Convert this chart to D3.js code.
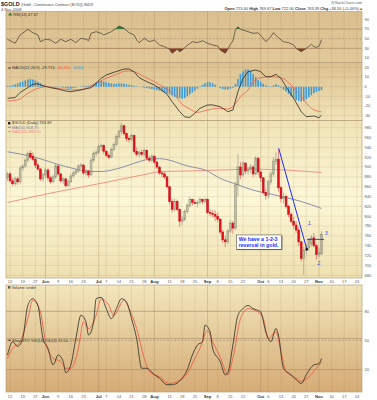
<!DOCTYPE html>
<html>
<head>
<meta charset="utf-8">
<script src="https://cdn.jsdelivr.net/npm/d3@7"></script>
<style>
  html, body { margin: 0; padding: 0; background: #fff; }
  svg { display: block; font-family: "Liberation Sans", Arial, sans-serif; }
</style>
</head>
<body>
<div id="chart"></div>
<script>
// trading calendar (x categories)
const firstSession = "2008-05-09", lastAxisDay = "2008-11-26";
const holidays = ["2008-05-26", "2008-07-04", "2008-09-01"];
const weekTicks = ["2008-05-12", "2008-05-19", "2008-05-27", "2008-06-09", "2008-06-16", "2008-06-23",
  "2008-07-07", "2008-07-14", "2008-07-21", "2008-07-28", "2008-08-11", "2008-08-18", "2008-08-25",
  "2008-09-08", "2008-09-15", "2008-09-22", "2008-10-06", "2008-10-13", "2008-10-20", "2008-10-27",
  "2008-11-10", "2008-11-17", "2008-11-24"];
const monthTicks = [["2008-06-02", "Jun"], ["2008-07-01", "Jul"], ["2008-08-01", "Aug"],
  ["2008-09-02", "Sep"], ["2008-10-01", "Oct"], ["2008-11-03", "Nov"]];

// right axis tick labels
const priceTicks = [680, 700, 720, 740, 760, 780, 800, 820, 840, 860, 880, 900, 920, 940, 960, 980];
const macdTicks = [-30, -20, -10, 0, 10, 20];
const rsiTicks = [10, 30, 50, 70, 90];
const stoTicks = [20, 50, 80];

// daily candles [open, high, low, close], one per session from 9 May
const ohlc = [
  [878, 890, 872, 886],
  [886, 890, 868, 872], [872, 878, 862, 866], [866, 880, 862, 876], [876, 880, 864, 870], [870, 902, 866, 898],
  [898, 906, 892, 902], [902, 918, 898, 914], [914, 932, 910, 928], [928, 934, 916, 920], [922, 930, 912, 916],
  [916, 918, 898, 904], [904, 908, 892, 896], [896, 898, 872, 876], [876, 888, 870, 884],
  [884, 898, 880, 894], [894, 898, 872, 878], [878, 882, 866, 870], [870, 884, 868, 880], [880, 906, 876, 902],
  [902, 904, 882, 886], [886, 888, 868, 872], [872, 880, 866, 876], [876, 878, 858, 862], [862, 874, 860, 870],
  [870, 886, 868, 882], [882, 892, 878, 888], [888, 896, 884, 892], [892, 906, 888, 902], [902, 908, 896, 904],
  [904, 906, 884, 888], [888, 896, 882, 892], [892, 894, 878, 884], [884, 918, 882, 914], [914, 932, 910, 928],
  [928, 936, 922, 930], [930, 946, 926, 942], [942, 948, 934, 944], [944, 946, 926, 932],
  [932, 934, 920, 924], [924, 928, 916, 920], [920, 940, 918, 936], [936, 950, 932, 946], [946, 966, 942, 962],
  [962, 976, 958, 972], [972, 990, 966, 984], [984, 986, 964, 968], [968, 970, 952, 958], [958, 962, 950, 956],
  [956, 968, 952, 964], [964, 966, 928, 932], [932, 940, 922, 926], [926, 934, 920, 930], [930, 936, 922, 926],
  [926, 938, 922, 934], [934, 936, 914, 918], [918, 922, 910, 914], [914, 926, 910, 922], [922, 924, 906, 910],
  [910, 912, 896, 900], [900, 902, 884, 888], [888, 892, 878, 886], [886, 890, 876, 880], [880, 882, 856, 860],
  [860, 862, 824, 830], [830, 836, 808, 814], [814, 836, 810, 830], [830, 834, 810, 814], [814, 816, 778, 790],
  [790, 800, 782, 794], [794, 814, 790, 810], [810, 826, 806, 822], [822, 840, 818, 834], [834, 836, 822, 828],
  [828, 834, 824, 826], [826, 832, 818, 828], [828, 838, 824, 834], [834, 836, 824, 830], [830, 838, 826, 834],
  [834, 836, 804, 808], [808, 814, 800, 806], [806, 812, 798, 804], [804, 812, 790, 800],
  [800, 808, 788, 794], [794, 796, 764, 768], [768, 772, 746, 752], [752, 760, 737, 748], [748, 774, 744, 770],
  [770, 792, 766, 786], [786, 790, 764, 776], [776, 870, 772, 864], [864, 926, 840, 900], [900, 910, 876, 884],
  [884, 912, 880, 908], [908, 910, 886, 892], [892, 900, 884, 896], [896, 906, 888, 900], [900, 904, 880, 886],
  [886, 922, 884, 918], [918, 920, 884, 890], [890, 892, 870, 878], [878, 880, 844, 848], [848, 856, 834, 842],
  [842, 874, 836, 870], [870, 892, 864, 886], [886, 920, 880, 912], [912, 930, 904, 916], [916, 938, 850, 858],
  [858, 862, 828, 836], [836, 848, 826, 840], [840, 844, 816, 820], [820, 824, 798, 804], [804, 808, 786, 790],
  [790, 798, 774, 782], [782, 790, 766, 772], [772, 778, 740, 748], [748, 750, 708, 714], [714, 738, 681, 730],
  [730, 744, 722, 736], [736, 756, 730, 752], [744, 762, 738, 756], [756, 766, 736, 740], [740, 744, 712, 722],
  [722, 736, 716, 726.89], [723.4, 769.67, 722, 763.39]
];

// moving averages: [session, value]
const ma50 = [[0, 931], [10, 921], [23, 901], [33, 891], [37, 891], [45, 899], [52, 911], [56, 916], [60, 917],
  [72, 901], [78, 894], [84, 877], [91, 864], [97, 853], [104, 845], [110, 838], [116, 830], [124, 816]];
const ma200 = [[0, 828], [17, 847], [37, 867], [60, 891], [72, 892], [84, 894], [97, 896], [110, 894], [124, 889]];

// RSI(14): [session, value]
const rsi = [[0, 48.7], [3, 40.4], [5, 57.6], [8, 69.3], [10, 62.3], [12, 57.6], [13, 43.7], [15, 48.7], [17, 47.2],
  [19, 40.4], [21, 48.7], [23, 43.7], [25, 48.7], [27, 41.7], [29, 50.7], [31, 48.7], [32, 45.8], [33, 61],
  [35, 64.4], [37, 61], [38, 57.6], [41, 64.4], [43, 71.4], [44, 76.2], [46, 71.4], [48, 62.3], [50, 57.6],
  [51, 47.2], [52, 41.7], [54, 50.7], [56, 43.7], [58, 47.2], [60, 36.9], [62, 33.4], [64, 28], [65, 19.8],
  [67, 28], [68, 23], [69, 26.6], [71, 36], [73, 43.7], [75, 41.7], [77, 45.8], [79, 40.4], [81, 36.9],
  [83, 34.8], [84, 26.6], [86, 19.8], [87, 28], [88, 38], [89, 45], [90, 68], [91, 74.7], [92, 69.3],
  [93, 68], [95, 64.4], [97, 61], [99, 62], [101, 50.7], [102, 43.7], [104, 54], [105, 62.3], [107, 52],
  [109, 43.7], [111, 41.7], [113, 36.9], [114, 30], [116, 23], [117, 26.6], [118, 30], [120, 38.3],
  [121, 33.4], [122, 32], [123, 34], [124, 47.67]];

// MACD(12,26,9): line and signal [session, value], histogram one per session
const macdLine = [[0, -12.1], [3, -11.4], [5, -5.9], [8, -1], [10, 2.5], [12, 3.1], [14, 1], [17, -1], [20, -2.4],
  [23, -4.5], [25, -5.2], [29, -3.4], [33, -1], [35, 3.5], [37, 8.7], [39, 12.2], [42, 15], [46, 18.4],
  [48, 18.4], [50, 15.6], [52, 9.4], [55, 5.2], [58, 1.8], [60, -1.7], [63, -7.9], [65, -15.6], [68, -26],
  [70, -31.5], [72, -32], [74, -27.5], [76, -22.5], [79, -19], [81, -19], [84, -20.8], [87, -26], [89, -24.3],
  [91, -5.2], [93, 8.7], [95, 15.6], [98, 17.4], [100, 15.6], [102, 10.4], [104, 10.4], [106, 12.9],
  [108, 8.7], [110, 0], [113, -12.1], [116, -26], [118, -31.3], [121, -30.5], [123, -32.3], [124, -29.713]];
const macdSignal = [[0, -14.9], [4, -13.9], [8, -6.9], [12, -1.7], [16, 0], [19, -1.7], [23, -2.7], [27, -3.4],
  [31, -1.7], [35, 3.5], [39, 8.7], [43, 12.9], [47, 16.4], [50, 15.6], [54, 10.4], [58, 5.2], [62, -1],
  [66, -8.6], [69, -18.3], [72, -23.2], [75, -26.7], [79, -24.3], [83, -22.5], [87, -23.2], [89, -20.8],
  [92, -10.4], [95, -3.4], [97, 5.2], [100, 9.4], [104, 10.4], [108, 9.4], [112, 1.8], [116, -10.4],
  [120, -22.5], [124, -26.211]];
const macdHist = [
  1,
  1, 1.5, 2.5, 3.5, 4.5,   5.5, 6.5, 7.5, 8, 7.5,   6.5, 5, 3.5, 2,
  1, 0, -0.5, -1, -1,   -0.5, -0.5, -1, -1.5, -2,   -2, -1.5, -1, 0, 0.5,   1, 1, 1, 1.5, 3,
  4.5, 5.5, 6, 5.5,   4.5, 4, 3.5, 3, 3,   3.5, 3.5, 3, 2.5, 2,   1.5, 1, 0.5, 0, -0.5,
  -1, -1.5, -2, -2.5, -3,   -3.5, -4, -5, -6, -7,   -8, -9, -10.5, -11.5, -12,   -12.5, -12, -10, -8, -6,
  -4, -2, 0.5, 2, 3.5,   5, 4.5, 3.5, 2,   0, -1.5, -2.5, -3, -3,   -2, -1, 3, 8, 13,
  16, 18, 18, 16, 13,   10, 7, 5, 3, 1.5,   0.5, 0.5, 1.5, 2.5, 1.5,   -1, -3, -5, -7.5, -10,
  -12, -14, -15, -15.5, -15,   -13, -11, -9, -7, -5.5,   -4.5, -3.502
];

// Slow STO %K(14) %D(3): [session, value]
const stoK = [[0, 35], [2, 48.6], [4, 43.9], [6, 52], [8, 86], [10, 92.9], [12, 86], [14, 52], [16, 41.8],
  [18, 24.9], [20, 35], [22, 28.2], [23, 16.7], [25, 24.9], [27, 52], [29, 75.9], [31, 69], [32, 55.5],
  [34, 69], [35, 92.9], [37, 94.3], [39, 82.7], [41, 72.4], [43, 82.7], [45, 92.9], [47, 89.4], [49, 72.4],
  [51, 52], [53, 21.4], [55, 21.4], [58, 14.7], [60, 11.2], [63, 4.5], [65, 4.5], [69, 11.2], [71, 20],
  [73, 35], [75, 45.3], [77, 48.6], [78, 65.7], [80, 58.8], [81, 41.8], [84, 28.2], [86, 14.7], [87, 16.7],
  [89, 45.3], [91, 75.9], [93, 82.7], [95, 86], [97, 82.7], [100, 79.2], [102, 58.8], [104, 48.6],
  [106, 62.2], [107, 55.5], [109, 21.4], [112, 14.7], [114, 9.8], [116, 5.7], [118, 14.7], [121, 24.9],
  [123, 26.1], [124, 31.5]];
const stoD = [[0, 31.6], [2, 41.8], [5, 48.6], [8, 72.4], [10, 91.4], [13, 79.2], [15, 48.6], [18, 31.6],
  [21, 28.2], [23, 21.4], [25, 21.4], [28, 41.8], [30, 69], [32, 62.2], [35, 75.9], [37, 92.9], [40, 86],
  [42, 75.9], [46, 91.4], [48, 82.7], [51, 62.2], [54, 31.6], [56, 18], [60, 12.7], [64, 5.7], [68, 9.2],
  [71, 16], [74, 31.6], [76, 41.8], [79, 60.2], [81, 48.6], [84, 33], [87, 14.7], [89, 31.6], [92, 72.4],
  [95, 82.7], [98, 80.6], [101, 72.4], [103, 52], [106, 58.8], [108, 38.4], [110, 18], [114, 11.2],
  [116, 7.8], [119, 12.7], [122, 21.4], [124, 27.79]];

// hand drawn annotations, in session / price units
const trendLine = [[107.1, 938], [118.2, 733]];
const resistance = [[118.3, 753], [125, 753]];
const pointLabels = [["1.", 119.4, 786], ["2.", 123.2, 705], ["3.", 126.1, 766]];
const noteBox = {session: 90.5, price: 762, lines: ["We have a 1-2-3", "reversal in gold."]};

// ---------------------------------------------------------------
const width = 377, height = 400;
const left = 6, right = 362;

const svg = d3.select("#chart").append("svg")
  .attr("width", width)
  .attr("height", height);
const defs = svg.append("defs");

const fmt = d3.utcFormat("%Y-%m-%d");
const sessions = d3.utcDay.range(new Date(firstSession), d3.utcDay.offset(new Date(lastAxisDay), 1))
  .filter(d => d.getUTCDay() > 0 && d.getUTCDay() < 6 && !holidays.includes(fmt(d)))
  .map(fmt);
const pos = s => sessions.indexOf(s);

const x = d3.scaleLinear().domain([-0.6, sessions.length - 1]).range([left, right]);

const panels = {
  rsi:   {top: 11.5, bottom: 62.5, colors: ["#dbbf8e", "#e2c99a"]},
  macd:  {top: 62.5, bottom: 120.5, colors: ["#dcc190", "#f1e4b8"]},
  price: {top: 120.5, bottom: 278, colors: ["#f0e3b6", "#fcf7d7", "#eee0b0"]},
  lower: {top: 285, bottom: 392, colors: ["#f2e6bc", "#d5ab75"]}
};

const yRsi = d3.scaleLinear().domain([0.7, 106.1]).range([panels.rsi.bottom, panels.rsi.top]);
const yMacd = d3.scaleLinear().domain([-35.2, 25.2]).range([panels.macd.bottom, panels.macd.top]);
const yPrice = d3.scaleLinear().domain([674.5, 994.6]).range([panels.price.bottom, panels.price.top]);
const ySto = d3.scaleLinear().domain([-3, 107]).range([panels.lower.bottom, panels.lower.top]);

// panel backgrounds
Object.entries(panels).forEach(([key, p]) => {
  const g = defs.append("linearGradient").attr("id", "bg-" + key)
    .attr("x1", 0).attr("x2", 0).attr("y1", 0).attr("y2", 1);
  p.colors.forEach((c, i) => g.append("stop")
    .attr("offset", i / (p.colors.length - 1)).attr("stop-color", c));
  svg.append("rect")
    .attr("x", left).attr("y", p.top)
    .attr("width", right - left).attr("height", p.bottom - p.top)
    .attr("fill", `url(#bg-${key})`);
});

// vertical grid
const gridDays = weekTicks.map(d => ({s: pos(d), month: false}))
  .concat(monthTicks.map(d => ({s: pos(d[0]), month: true})));
Object.values(panels).forEach(p => {
  svg.append("g").selectAll("line")
    .data(gridDays)
    .join("line")
      .attr("x1", d => x(d.s)).attr("x2", d => x(d.s))
      .attr("y1", p.top).attr("y2", p.bottom)
      .attr("stroke", d => d.month ? "rgba(140,105,60,0.38)" : "rgba(150,120,70,0.2)")
      .attr("stroke-width", 0.7);
});

// horizontal grid
function hGrid(ticks, y, color, dash) {
  svg.append("g").selectAll("line")
    .data(ticks)
    .join("line")
      .attr("x1", left).attr("x2", right)
      .attr("y1", d => y(d)).attr("y2", d => y(d))
      .attr("stroke", color)
      .attr("stroke-width", 0.7)
      .attr("stroke-dasharray", dash || null);
}
hGrid(priceTicks, yPrice, "rgba(150,120,70,0.18)");
hGrid(macdTicks, yMacd, "rgba(150,120,70,0.2)");
hGrid([70, 30], yRsi, "#a88f69");
hGrid([50], yRsi, "#ab9470", "2,1.5");
hGrid([80, 20], ySto, "#a88f69");
hGrid([50], ySto, "#ab9470", "2,1.5");
svg.append("line")
  .attr("x1", left).attr("x2", right).attr("y1", 338.5).attr("y2", 338.5)
  .attr("stroke", "#b39a74").attr("stroke-width", 0.8);

// panel frames
Object.values(panels).forEach(p => {
  svg.append("rect")
    .attr("x", left).attr("y", p.top)
    .attr("width", right - left).attr("height", p.bottom - p.top)
    .attr("fill", "none")
    .attr("stroke", "#b9a27e")
    .attr("stroke-width", 0.7);
});

const line = y => d3.line().x(d => x(d[0])).y(d => y(d[1]));

// ---- RSI ----
defs.append("clipPath").attr("id", "rsiHigh").append("rect")
  .attr("x", left).attr("y", panels.rsi.top).attr("width", right - left).attr("height", yRsi(70) - panels.rsi.top);
defs.append("clipPath").attr("id", "rsiLow").append("rect")
  .attr("x", left).attr("y", yRsi(30)).attr("width", right - left).attr("height", panels.rsi.bottom - yRsi(30));
svg.append("path")
  .datum(rsi)
  .attr("clip-path", "url(#rsiHigh)")
  .attr("fill", "#2f7d3a")
  .attr("d", d3.area().x(d => x(d[0])).y0(yRsi(70)).y1(d => yRsi(d[1])));
svg.append("path")
  .datum(rsi)
  .attr("clip-path", "url(#rsiLow)")
  .attr("fill", "#8c3b27")
  .attr("d", d3.area().x(d => x(d[0])).y0(yRsi(30)).y1(d => yRsi(d[1])));
svg.append("path")
  .datum(rsi)
  .attr("fill", "none")
  .attr("stroke", "#3c3a33")
  .attr("stroke-width", 0.7)
  .attr("d", line(yRsi));

// ---- MACD ----
svg.append("g").selectAll("rect")
  .data(macdHist)
  .join("rect")
    .attr("x", (d, i) => x(i) - 0.8)
    .attr("width", 1.6)
    .attr("y", d => Math.min(yMacd(d), yMacd(0)))
    .attr("height", d => Math.abs(yMacd(d) - yMacd(0)))
    .attr("fill", "#3d9bd8");
svg.append("path")
  .datum(macdSignal)
  .attr("fill", "none").attr("stroke", "#f0624e").attr("stroke-width", 0.8)
  .attr("d", line(yMacd).curve(d3.curveMonotoneX));
svg.append("path")
  .datum(macdLine)
  .attr("fill", "none").attr("stroke", "#2a2a24").attr("stroke-width", 0.8)
  .attr("d", line(yMacd));

// ---- price ----
svg.append("path")
  .datum(ma200)
  .attr("fill", "none").attr("stroke", "#f08a7c").attr("stroke-width", 0.9)
  .attr("d", line(yPrice));
svg.append("path")
  .datum(ma50)
  .attr("fill", "none").attr("stroke", "#7d84a6").attr("stroke-width", 0.9)
  .attr("d", line(yPrice).curve(d3.curveMonotoneX));

const candles = svg.append("g").selectAll("g")
  .data(ohlc)
  .join("g");
candles.append("line")
  .attr("x1", (d, i) => x(i)).attr("x2", (d, i) => x(i))
  .attr("y1", d => yPrice(d[1])).attr("y2", d => yPrice(d[2]))
  .attr("stroke", d => d[3] < d[0] ? "#d84a4e" : "#8d8c7c")
  .attr("stroke-width", 0.6);
candles.append("rect")
  .attr("x", (d, i) => x(i) - 0.9)
  .attr("width", 1.8)
  .attr("y", d => yPrice(Math.max(d[0], d[3])))
  .attr("height", d => Math.max(0.6, Math.abs(yPrice(d[0]) - yPrice(d[3]))))
  .attr("fill", d => d[3] < d[0] ? "#e4101c" : "none")
  .attr("stroke", d => d[3] < d[0] ? "#c8121c" : "#8d8c7c")
  .attr("stroke-width", 0.6);

// annotations
svg.append("path")
  .datum(trendLine)
  .attr("fill", "none").attr("stroke", "#1f2cff").attr("stroke-width", 1)
  .attr("d", line(yPrice));
svg.append("path")
  .datum(resistance)
  .attr("fill", "none").attr("stroke", "#1f2cff").attr("stroke-width", 0.9)
  .attr("d", line(yPrice));
svg.append("circle")
  .attr("cx", x(trendLine[1][0])).attr("cy", yPrice(trendLine[1][1]))
  .attr("r", 1.2).attr("fill", "#111");
svg.append("g").selectAll("text")
  .data(pointLabels)
  .join("text")
    .attr("x", d => x(d[1])).attr("y", d => yPrice(d[2]))
    .attr("dy", "0.35em")
    .attr("text-anchor", "middle")
    .style("font-size", "4.6px")
    .style("font-style", "italic")
    .style("fill", "#2a36e8")
    .text(d => d[0]);

const bx = x(noteBox.session), by = yPrice(noteBox.price);
svg.append("rect")
  .attr("x", bx + 0.8).attr("y", by + 0.8).attr("width", 45).attr("height", 14.3)
  .attr("fill", "#6d6a60");
svg.append("rect")
  .attr("x", bx).attr("y", by).attr("width", 45).attr("height", 14.3)
  .attr("fill", "#fff").attr("stroke", "#333").attr("stroke-width", 0.5);
svg.append("g").selectAll("text")
  .data(noteBox.lines)
  .join("text")
    .attr("x", bx + 2).attr("y", (d, i) => by + 5.6 + i * 6.2)
    .style("font-size", "5.2px")
    .style("font-weight", "bold")
    .style("fill", "#1f2cff")
    .text(d => d);

// ---- Slow STO ----
svg.append("path")
  .datum(stoD)
  .attr("fill", "none").attr("stroke", "#f0533f").attr("stroke-width", 0.8)
  .attr("d", line(ySto).curve(d3.curveMonotoneX));
svg.append("path")
  .datum(stoK)
  .attr("fill", "none").attr("stroke", "#2a2a24").attr("stroke-width", 0.8)
  .attr("d", line(ySto).curve(d3.curveMonotoneX));

// ---- right axis labels ----
function rightLabels(ticks, y, fmtLabel) {
  svg.append("g").selectAll("text")
    .data(ticks)
    .join("text")
      .attr("x", right + 2.5).attr("y", d => y(d))
      .attr("dy", "0.35em")
      .style("font-size", "4px")
      .style("fill", "#555")
      .text(fmtLabel || (d => d));
}
rightLabels(rsiTicks, yRsi);
rightLabels(macdTicks, yMacd);
rightLabels(priceTicks, yPrice);
rightLabels(stoTicks, ySto);

// ---- date axes ----
function dateLabels(yPos) {
  const g = svg.append("g");
  g.selectAll("text.wk")
    .data(weekTicks)
    .join("text")
      .attr("class", "wk")
      .attr("x", d => x(pos(d))).attr("y", yPos)
      .attr("dy", "0.35em")
      .attr("text-anchor", "middle")
      .style("font-size", "4px")
      .style("fill", "#555")
      .text(d => +d.slice(8));
  g.selectAll("text.mo")
    .data(monthTicks)
    .join("text")
      .attr("class", "mo")
      .attr("x", d => x(pos(d[0]))).attr("y", yPos)
      .attr("dy", "0.35em")
      .attr("text-anchor", "middle")
      .style("font-size", "4.2px")
      .style("font-weight", "bold")
      .style("fill", "#333")
      .text(d => d[1]);
}
dateLabels(281.3);
dateLabels(396.2);

// ---- titles and legends ----
const title = svg.append("text").attr("x", 1).attr("y", 6.2).style("fill", "#222");
title.append("tspan").style("font-size", "5.4px").style("font-weight", "bold").text("$GOLD ");
title.append("tspan").style("font-size", "3.9px").style("fill", "#444")
  .text("(Gold - Continuous Contract (EOD)) INDX");
svg.append("text").attr("x", 1).attr("y", 11.2)
  .style("font-size", "3.9px").style("fill", "#444").text("4-Nov-2008");

svg.append("text").attr("x", right).attr("y", 4)
  .attr("text-anchor", "end")
  .style("font-size", "3.6px").style("fill", "#666").text("@StockCharts.com");
const quote = svg.append("text").attr("x", right + 1).attr("y", 10.4)
  .attr("text-anchor", "end").style("font-size", "4px").style("fill", "#333");
[["Open", " 723.40 "], ["High", " 769.67 "], ["Low", " 722.00 "], ["Close", " 763.39 "], ["Chg", " +36.50 (+5.00%)"]]
  .forEach(([k, v]) => {
    quote.append("tspan").style("font-weight", "bold").text(k);
    quote.append("tspan").text(v);
  });
quote.append("tspan").style("fill", "#2a8a3a").text("▲");

// RSI legend
svg.append("path")
  .attr("d", `M8,15.6 L10.2,12.6 L12.4,15.6 Z`)
  .attr("fill", "#2f7d3a");
svg.append("text").attr("x", 13.2).attr("y", 15.6)
  .style("font-size", "4px").style("fill", "#333").text("RSI(14) 47.67");

// MACD legend
svg.append("line").attr("x1", 8).attr("x2", 11).attr("y1", 68).attr("y2", 68)
  .attr("stroke", "#222").attr("stroke-width", 0.8);
const macdLeg = svg.append("text").attr("x", 12).attr("y", 69.4).style("font-size", "4px");
macdLeg.append("tspan").style("fill", "#333").text("MACD(12,26,9) -29.713, ");
macdLeg.append("tspan").style("fill", "#f0533f").text("-26.211, ");
macdLeg.append("tspan").style("fill", "#3d9bd8").text("-3.502");

// price legend
svg.append("rect").attr("x", 8).attr("y", 122).attr("width", 2.4).attr("height", 2.4).attr("fill", "#222");
svg.append("text").attr("x", 12).attr("y", 124.4)
  .style("font-size", "4px").style("fill", "#333").text("$GOLD (Daily) 763.39");
[["MA(50) 818.75", "#7d84a6", 128.6], ["MA(200) 886.90", "#f08a7c", 132.8]].forEach(([t, c, yy]) => {
  svg.append("line").attr("x1", 8).attr("x2", 11).attr("y1", yy - 1.3).attr("y2", yy - 1.3)
    .attr("stroke", c).attr("stroke-width", 0.9);
  svg.append("text").attr("x", 12).attr("y", yy)
    .style("font-size", "4px").style("fill", c).text(t);
});

// volume legend
svg.append("rect").attr("x", 8).attr("y", 286.2).attr("width", 2.2).attr("height", 2.4).attr("fill", "#555");
svg.append("text").attr("x", 11.5).attr("y", 288.6)
  .style("font-size", "4px").style("fill", "#444").text("Volume undef");

// STO legend
svg.append("line").attr("x1", 8).attr("x2", 11).attr("y1", 340.2).attr("y2", 340.2)
  .attr("stroke", "#222").attr("stroke-width", 0.8);
const stoLeg = svg.append("text").attr("x", 12).attr("y", 341.6).style("font-size", "4px");
stoLeg.append("tspan").style("fill", "#333").text("Slow STO %K(14) %D(3) 31.50, ");
stoLeg.append("tspan").style("fill", "#f0533f").text("27.79");
</script>
</body>
</html>
